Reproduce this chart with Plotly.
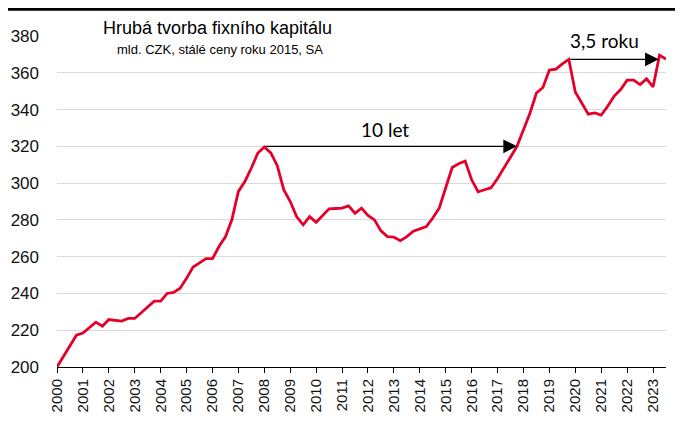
import plotly.graph_objects as go

years = list(range(2000, 2024))
tick_labels = [str(y) for y in years]

# quarterly values, 2000Q1 .. 2023Q3 (bn CZK, constant 2015 prices, SA)
gfcf = [
    200.0, 205.7, 211.5, 217.3,
    218.5, 221.5, 224.4, 222.2,
    225.8, 225.4, 225.0, 226.4,
    226.4, 229.5, 232.7, 235.8,
    235.8, 240.0, 240.6, 242.8,
    248.2, 254.4, 256.6, 258.9,
    258.9, 265.5, 270.8, 280.2,
    295.5, 300.9, 308.2, 316.4,
    319.7, 316.4, 309.5, 296.4,
    290.0, 281.7, 277.3, 281.8,
    278.7, 282.2, 286.0, 286.2,
    286.4, 287.6, 283.6, 286.4,
    282.4, 280.0, 274.0, 270.9,
    270.6, 268.7, 270.9, 273.8,
    274.9, 276.4, 281.0, 286.4,
    297.5, 308.5, 310.5, 312.0,
    301.8, 295.3, 296.4, 297.5,
    302.5, 308.5, 314.0, 320.0,
    329.0, 338.0, 349.0, 352.0,
    361.5, 362.0, 364.8, 367.3,
    349.6, 343.3, 337.5, 338.2,
    337.0, 341.8, 347.3, 350.9,
    356.0, 356.0, 353.6, 356.7,
    352.3, 369.5, 367.4,
]
quarters = [2000 + i / 4 for i in range(len(gfcf))]

y_ticks = list(range(200, 381, 20))

# page offset of the figure div (default body margin)
OFF = 8
W, H = 683 - OFF, 421 - OFF
# plot area in page pixels
PX0, PX1, PY0, PY1 = 57, 666, 36, 367
L, T = PX0 - OFF, PY0 - OFF
R, B = W - (PX1 - OFF), H - (PY1 - OFF)
pw, ph = PX1 - PX0, PY1 - PY0


def px_x(px):
    return (px - PX0) / pw


def px_y(py):
    return (PY1 - py) / ph


fig = go.Figure()
fig.add_trace(go.Scatter(
    x=quarters, y=gfcf, mode="lines",
    line=dict(color="#e4002b", width=2.8),
    hoverinfo="skip", showlegend=False, cliponaxis=False,
))

font_ann = "Lato, 'Open Sans', sans-serif"
# 10 let arrow
fig.add_annotation(
    x=quarters[71], y=320, ax=quarters[32], ay=320,
    xref="x", yref="y", axref="x", ayref="y",
    text="", showarrow=True, arrowhead=2, arrowsize=2.1, arrowwidth=1.3,
    arrowcolor="black", standoff=0, startstandoff=0,
)
fig.add_annotation(
    x=px_x(385), y=px_y(130), xref="paper", yref="paper", text="10 let",
    showarrow=False, xanchor="center", yanchor="middle",
    font=dict(family=font_ann, size=19, color="black"),
)
# 3,5 roku arrow
fig.add_annotation(
    x=2023.22, y=367.3, ax=quarters[79], ay=367.3,
    xref="x", yref="y", axref="x", ayref="y",
    text="", showarrow=True, arrowhead=2, arrowsize=2.1, arrowwidth=1.3,
    arrowcolor="black", standoff=0, startstandoff=0,
)
fig.add_annotation(
    x=px_x(604), y=px_y(40), xref="paper", yref="paper", text="3,5 roku",
    showarrow=False, xanchor="center", yanchor="middle",
    font=dict(family=font_ann, size=19, color="black"),
)

# titles
fig.add_annotation(
    x=px_x(217.5), y=px_y(28), xref="paper", yref="paper",
    xanchor="center", yanchor="middle",
    text="Hrubá tvorba fixního kapitálu",
    showarrow=False, font=dict(family="Liberation Sans, Arial", size=18, color="black"),
)
fig.add_annotation(
    x=px_x(220), y=px_y(50), xref="paper", yref="paper",
    xanchor="center", yanchor="middle",
    text="mld. CZK, stálé ceny roku 2015, SA",
    showarrow=False, font=dict(family="Liberation Sans, Arial", size=13, color="black"),
)

# top black bar
fig.add_shape(
    type="line", xref="paper", yref="paper",
    x0=px_x(4), x1=px_x(680), y0=px_y(8.7), y1=px_y(8.7),
    line=dict(color="black", width=4),
)

fig.update_layout(
    width=W, height=H,
    margin=dict(l=L, r=R, t=T, b=B, autoexpand=False),
    paper_bgcolor="white", plot_bgcolor="white",
    font=dict(family="Liberation Sans, Arial", color="black"),
    showlegend=False,
)
fig.update_xaxes(
    range=[2000, 2023.5], tickmode="array", tickvals=years, ticktext=tick_labels,
    tickangle=-90, tickfont=dict(size=15, color="#111111"),
    showline=True, linecolor="black", linewidth=1,
    ticks="outside", ticklen=5, tickcolor="black", tickwidth=1,
    showgrid=False, zeroline=False, fixedrange=True, automargin=False,
)
fig.update_yaxes(
    range=[200, 380], tickmode="array", tickvals=y_ticks,
    tickfont=dict(size=17, color="#111111"),
    showgrid=True, gridcolor="#d9d9d9", gridwidth=1,
    showline=False, zeroline=False, ticks="", ticklabelstandoff=17,
    fixedrange=True, automargin=False,
)

fig.write_html("out.html")
